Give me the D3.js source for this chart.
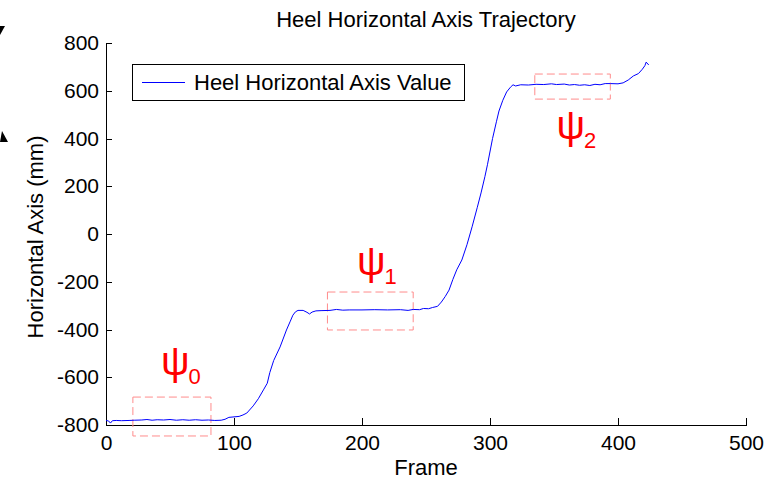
<!DOCTYPE html>
<html>
<head>
<meta charset="utf-8">
<script src="https://cdn.jsdelivr.net/npm/d3@7"></script>
<style>
  body { margin: 0; background: #fff; }
  svg { display: block; font-family: "Liberation Sans", Arial, sans-serif; }
</style>
</head>
<body>
<div id="graph"></div>
<script>
// frame numbers and heel horizontal position (mm)
const frames = [
  0, 2, 3.5, 5, 8, 12, 18, 22, 28, 32, 36, 40, 45, 50, 55, 60, 65, 70, 75, 80,
  85, 90, 93, 96, 100, 104, 107, 110, 115, 119, 123, 126, 128, 131, 136, 141,
  144, 146, 148, 150, 154, 157, 159, 161, 164, 168, 175, 180, 185, 190, 200,
  210, 220, 230, 236, 240, 245, 248, 252, 255, 259, 262, 265, 268, 271, 274,
  278, 282, 286, 290, 293, 296, 298, 302, 305, 307, 310, 313, 316, 318, 320,
  324, 330, 336, 342, 348, 352, 358, 362, 366, 370, 374, 378, 382, 386, 390,
  394, 400, 404, 408, 412, 416, 419, 421, 422, 424
];
const heelValues = [
  -781, -783, -792, -782, -781, -782, -781, -780, -779, -777, -780, -778, -779,
  -777, -780, -778, -780, -778, -780, -779, -781, -780, -776, -768, -766, -764,
  -758, -750, -720, -690, -653, -625, -580, -530, -473, -402, -365, -340, -326,
  -320, -320, -328, -335, -327, -322, -321, -320, -316, -319, -318, -318, -317,
  -318, -317, -320, -316, -317, -312, -313, -308, -303, -285, -262, -235, -190,
  -150, -109, -45, 30, 110, 172, 240, 290, 400, 470, 515, 560, 595, 615, 625,
  620, 625, 624, 627, 626, 629, 626, 628, 624, 626, 623, 625, 622, 627, 625,
  630, 630, 629, 633, 645, 662, 672, 690, 705, 720, 708
];

const xTicks = [0, 100, 200, 300, 400, 500];
const yTicks = [-800, -600, -400, -200, 0, 200, 400, 600, 800];

// psi regions: frame range and value range of each dashed box
const regionNames = ["0", "1", "2"];
const regionFrom = [21, 173, 335];
const regionTo = [82, 240, 394];
const regionLow = [-846, -402, 565];
const regionHigh = [-683, -243, 670];
// where the psi label sits (frame, value at its baseline)
const labelFrame = [43, 196, 352];
const labelValue = [-590, -170, 400];

const chartTitle = "Heel Horizontal Axis Trajectory";
const legendName = "Heel Horizontal Axis Value";

draw = () => {
  const W = 782, H = 479;
  const margin = { top: 43, left: 106 },
    width = 640,
    height = 382;

  const svg = d3
    .select("#graph")
    .append("svg")
    .attr("width", W)
    .attr("height", H);

  // stray marks left over at the page edge in the original figure
  svg.append("path").attr("d", "M0,26L5,26L0,35Z").attr("fill", "#000");
  svg.append("path").attr("d", "M2,131L8,142L0,142Z").attr("fill", "#000");

  const g = svg
    .append("g")
    .attr("transform", "translate(" + margin.left + "," + margin.top + ")");

  const x = d3.scaleLinear().domain([0, 500]).range([0, width]);
  const y = d3.scaleLinear().domain([-800, 800]).range([height, 0]);

  // bottom axis, ticks pointing in like matlab
  g.append("g")
    .attr("transform", "translate(0," + height + ")")
    .call(
      d3.axisBottom(x)
        .tickValues(xTicks)
        .tickFormat(d => String(d))
        .tickSizeInner(-7)
        .tickSizeOuter(0)
        .tickPadding(10)
    )
    .call(a => a.selectAll(".tick text").attr("font-size", 21).attr("fill", "#000"))
    .call(a => a.select(".domain").attr("shape-rendering", "crispEdges"))
    .call(a => a.selectAll("line").attr("shape-rendering", "crispEdges"))
    .attr("font-family", null);

  g.append("g")
    .call(
      d3.axisLeft(y)
        .tickValues(yTicks)
        .tickFormat(d => String(d))
        .tickSizeInner(-6)
        .tickSizeOuter(0)
        .tickPadding(7)
    )
    .call(a => a.selectAll(".tick text").attr("font-size", 21).attr("fill", "#000"))
    .call(a => a.select(".domain").attr("shape-rendering", "crispEdges"))
    .call(a => a.selectAll("line").attr("shape-rendering", "crispEdges"))
    .attr("font-family", null);

  // dashed boxes
  regionNames.forEach((name, i) => {
    g.append("rect")
      .attr("x", x(regionFrom[i]))
      .attr("y", y(regionHigh[i]))
      .attr("width", x(regionTo[i]) - x(regionFrom[i]))
      .attr("height", y(regionLow[i]) - y(regionHigh[i]))
      .attr("fill", "none")
      .attr("stroke", "#ff8c8c")
      .attr("stroke-width", 1)
      .attr("stroke-dasharray", "8,4");
  });

  // the trajectory
  const pts = frames.map((f, i) => ({ f: f, v: heelValues[i] }));
  g.append("path")
    .datum(pts)
    .attr("fill", "none")
    .attr("stroke", "#0000ff")
    .attr("stroke-width", 1)
    .attr("d", d3.line().x(d => x(d.f)).y(d => y(d.v)));

  // psi labels
  regionNames.forEach((name, i) => {
    const t = g.append("text")
      .attr("x", x(labelFrame[i]))
      .attr("y", y(labelValue[i]))
      .attr("fill", "#ff0000")
      .attr("font-size", 40);
    t.append("tspan").text("\u03C8");
    t.append("tspan").attr("font-size", 22).attr("dy", 9).attr("dx", -1).text(name);
  });

  // title and axis labels
  svg.append("text")
    .attr("x", margin.left + width / 2)
    .attr("y", 27)
    .attr("text-anchor", "middle")
    .attr("font-size", 22)
    .text(chartTitle);

  svg.append("text")
    .attr("x", margin.left + width / 2)
    .attr("y", 475)
    .attr("text-anchor", "middle")
    .attr("font-size", 22)
    .text("Frame");

  svg.append("text")
    .attr("transform", "translate(43,237) rotate(-90)")
    .attr("text-anchor", "middle")
    .attr("font-size", 22)
    .text("Horizontal Axis (mm)");

  // legend
  const lg = svg.append("g").attr("id", "legend");
  lg.append("rect")
    .attr("x", 132.5)
    .attr("y", 64.5)
    .attr("width", 332)
    .attr("height", 36)
    .attr("fill", "#fff")
    .attr("stroke", "#000");
  lg.append("line")
    .attr("x1", 142)
    .attr("x2", 185)
    .attr("y1", 82.5)
    .attr("y2", 82.5)
    .attr("stroke", "#0000ff");
  lg.append("text")
    .attr("x", 194)
    .attr("y", 90)
    .attr("font-size", 22)
    .text(legendName);
};

window.addEventListener("DOMContentLoaded", evt => {
  draw();
});
</script>
</body>
</html>
